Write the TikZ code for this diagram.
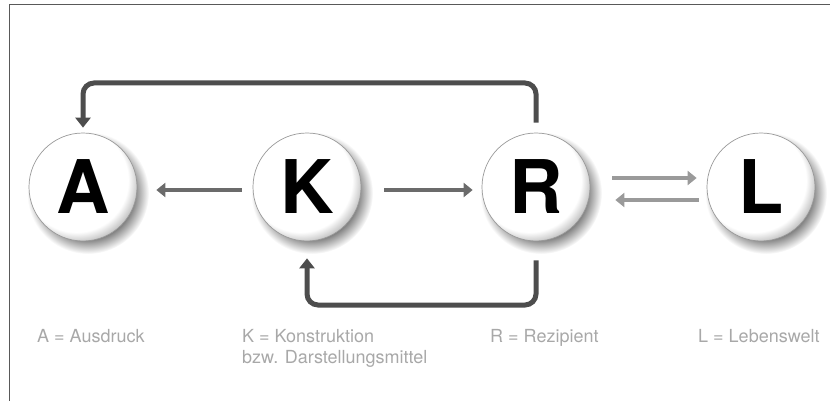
\documentclass[tikz,border=0pt]{standalone}
\usepackage{fontspec}
\setmainfont{TeX Gyre Heros}
\usetikzlibrary{arrows.meta}

% white ball, darkening towards its lower right rim
\pgfdeclareradialshading{ballshade}{\pgfpoint{-6bp}{6bp}}{%
  color(0bp)=(white); color(24bp)=(white); color(33bp)=(black!48); color(50bp)=(black!48)}
% soft drop shadow under each ball
\pgfdeclareradialshading{softshadow}{\pgfpoint{0bp}{0bp}}{%
  color(0bp)=(black!72); color(17bp)=(black!65); color(25bp)=(white); color(50bp)=(white)}

\definecolor{loopgray}{HTML}{4D4D4D}
\definecolor{maingray}{HTML}{6B6B6B}
\definecolor{lightarrow}{HTML}{9A9A9A}
\definecolor{labelgray}{HTML}{A8A8A8}

\begin{document}
\begin{tikzpicture}[x=1pt,y=-1pt,
  ball/.style={circle, minimum size=108pt, inner sep=0pt, shading=ballshade,
    draw=black!40, line width=0.7pt,
    font=\fontsize{74}{74}\selectfont\bfseries},
  ballshadow/.style={shading=softshadow},
  loopline/.style={draw=loopgray, line width=5pt, rounded corners=11pt,
    -{Triangle[width=15pt,length=10pt]}},
  flow/.style={draw=maingray, line width=4pt, -{Triangle[width=14pt,length=9pt]}},
  lightflow/.style={draw=lightarrow, line width=4pt, -{Triangle[width=14pt,length=9pt]}},
  legend/.style={anchor=north west, inner sep=0pt, text=labelgray, align=left,
    font=\fontsize{18}{21}\selectfont}]

\useasboundingbox (0,0) rectangle (830,401);

% frame lines at top and left
\draw[black!65, line width=1.4pt] (830,4.5) -- (9.5,4.5) -- (9.5,401);

% ball centres
\coordinate (pA) at (83,187);
\coordinate (pK) at (307,187);
\coordinate (pR) at (536,187);
\coordinate (pL) at (761,187);

% shadows, then the balls
\foreach \p in {pA,pK,pR,pL}
  \shade[ballshadow] ([shift={(5,6)}]\p) circle[radius=61];

\node[ball] (A) at (pA) {A};
\node[ball] (K) at (pK) {K};
\node[ball] (R) at (pR) {R};
\node[ball] (L) at (pL) {L};

% feedback loops
\draw[loopline, shorten <=10pt, shorten >=5pt]
  (R.north) -- (R.north |- 0,83) -| (A.north);
\draw[loopline, shorten <=19pt, shorten >=17pt]
  (R.south) -- (R.south |- 0,305) -| (K.south);

% straight arrows
\draw[flow, shorten <=11pt, shorten >=19pt]
  ([yshift=-3pt]K.west) -- ([yshift=-3pt]A.east);
\draw[flow, shorten <=23pt, shorten >=9pt]
  ([yshift=-3pt]K.east) -- ([yshift=-3pt]R.west);
\draw[lightflow, shorten <=22pt, shorten >=10pt]
  ([yshift=9pt]R.east) -- ([yshift=9pt]L.west);
\draw[lightflow, shorten <=8pt, shorten >=25pt]
  ([yshift=-13pt]L.west) -- ([yshift=-13pt]R.east);

% legend
\node[legend] (tA) at (37,329) {A = Ausdruck};
\node[legend] (tK) at (242,329) {K = Konstruktion\\bzw. Darstellungsmittel};
\node[legend] (tR) at (490,329) {R = Rezipient};
\node[legend] (tL) at (698,329) {L = Lebenswelt};

\end{tikzpicture}
\end{document}
